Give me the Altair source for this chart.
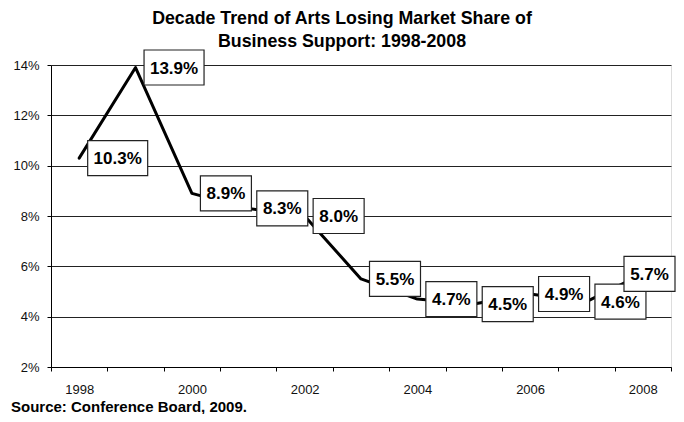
import altair as alt
import pandas as pd

# ---- data ----
years = list(range(1998, 2009))
share = [10.3, 13.9, 8.9, 8.3, 8.0, 5.5, 4.7, 4.5, 4.9, 4.6, 5.7]
y_ticks = [2, 4, 6, 8, 10, 12, 14]
title_lines = ["Decade Trend of Arts Losing Market Share of", "Business Support: 1998-2008"]
source_note = "Source: Conference Board, 2009."

# ---- layout ----
PLOT_W, PLOT_H = 620, 302
x_domain = [years[0] - 0.5, years[-1] + 0.5]
y_domain = [y_ticks[0], y_ticks[-1]]
ppy = PLOT_W / (x_domain[1] - x_domain[0])   # px per year
ppp = PLOT_H / (y_domain[1] - y_domain[0])   # px per percent point
FONT = "Liberation Sans"

df = pd.DataFrame({"year": years, "share": share})
df["label"] = [f"{v:.1f}%" for v in share]

# label boxes (Excel-style data labels placed right of each point, kept inside chart)
BOX_GAP, BOX_H, RIGHT_LIMIT = 8.5, 35, PLOT_W + 4
cx = (df["year"] - x_domain[0]) * ppy
w = df["label"].str.len().map({4: 51, 5: 60})
left = cx + BOX_GAP
right = left + w
over = right > RIGHT_LIMIT
right = right.where(~over, RIGHT_LIMIT)
left = right - w
df["bx1"] = x_domain[0] + left / ppy
df["bx2"] = x_domain[0] + right / ppy
df["bxc"] = (df["bx1"] + df["bx2"]) / 2
df["by1"] = df["share"] - (BOX_H / 2) / ppp
df["by2"] = df["share"] + (BOX_H / 2) / ppp

x_scale = alt.Scale(domain=x_domain, nice=False, zero=False)
y_scale = alt.Scale(domain=y_domain, nice=False, zero=False)

x_axis = alt.Axis(
    values=[x_domain[0] + i for i in range(len(years) + 1)],
    labelExpr="((datum.value + 0.5) % 2 == 0 && datum.value < 2008) ? format(datum.value + 0.5, 'd') : ''",
    labelOffset=ppy / 2, labelFlush=False, labelOverlap=False,
    tickSize=4, tickColor="black", domainColor="black", grid=False, title=None,
    labelFont=FONT, labelFontSize=13, labelColor="#111", labelPadding=12,
)
y_axis = alt.Axis(
    values=y_ticks, labelExpr="datum.value + '%'",
    tickSize=4, tickColor="black", domainColor="black",
    grid=True, gridColor="#222", gridWidth=1, title=None,
    labelFont=FONT, labelFontSize=13, labelColor="#111", labelPadding=8,
)

base = alt.Chart(df)

line = base.mark_line(color="black", strokeWidth=3, strokeJoin="round", strokeCap="round").encode(
    x=alt.X("year:Q", scale=x_scale, axis=x_axis),
    y=alt.Y("share:Q", scale=y_scale, axis=y_axis),
)

boxes = base.mark_rect(fill="white", stroke="#222", strokeWidth=1.2).encode(
    x=alt.X("bx1:Q", scale=x_scale), x2="bx2:Q",
    y=alt.Y("by1:Q", scale=y_scale), y2="by2:Q",
)

labels = base.mark_text(font=FONT, fontSize=17, fontWeight="bold", color="black",
                        align="center", baseline="middle", dy=1).encode(
    x=alt.X("bxc:Q", scale=x_scale),
    y=alt.Y("share:Q", scale=y_scale),
    text="label:N",
)

source = alt.Chart(pd.DataFrame({"t": [source_note]})).mark_text(
    font=FONT, fontSize=15, fontWeight="bold", color="black", align="left", baseline="middle"
).encode(x=alt.value(-40), y=alt.value(PLOT_H + 40), text="t:N")

chart = alt.layer(line, boxes, labels, source).properties(
    width=PLOT_W, height=PLOT_H,
    title=alt.TitleParams(
        text=title_lines, font=FONT, fontSize=17.8, fontWeight="bold", color="black",
        anchor="middle", frame="group", dx=-19, dy=9, lineHeight=23, offset=8,
    ),
    autosize=alt.AutoSizeParams(type="none"),
    padding={"left": 43, "top": 57, "right": 5, "bottom": 47},
).configure_view(stroke="#999", strokeWidth=1).configure(background="white")

chart.save("out.html", embed_options={"renderer": "svg", "actions": False})
